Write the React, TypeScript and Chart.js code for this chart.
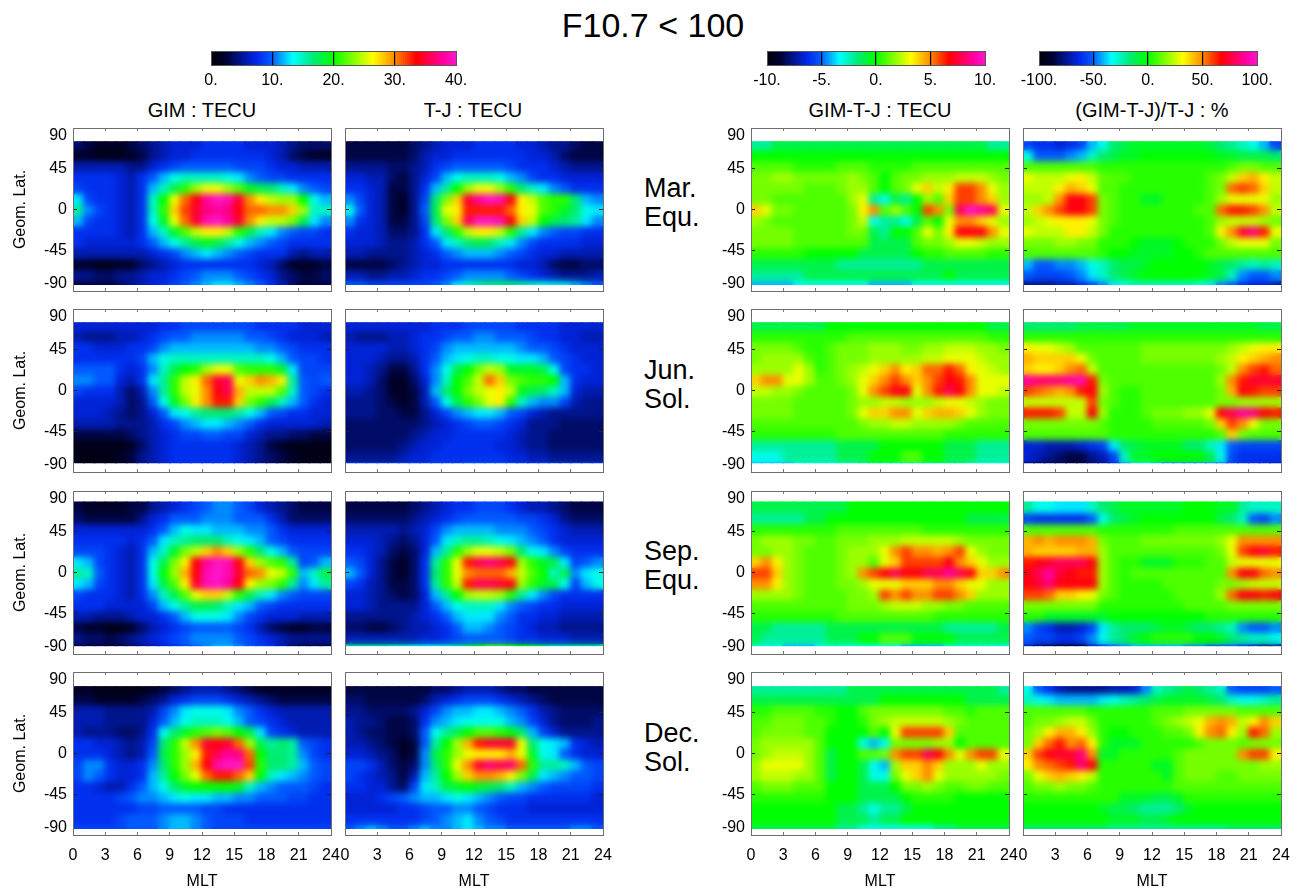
import React, { useEffect, useRef } from "react";
import { Chart, registerables } from "chart.js";
Chart.register(...registerables);

const FONT = '"Liberation Sans", Arial, sans-serif';
const HOURS = [0.5,1.5,2.5,3.5,4.5,5.5,6.5,7.5,8.5,9.5,10.5,11.5,12.5,13.5,14.5,15.5,16.5,17.5,18.5,19.5,20.5,21.5,22.5,23.5];
const LAT_EDGES = [66,54,42,30,18,6,-6,-18,-30,-42,-54,-66,-78];

const marGim = [
[4,3,2,2,2,3,4,5,6,7,7,7,8,8,8,8,7,7,7,6,5,4,4,4],
[2,2,1,1,1,2,3,5,6,7,7,8,8,8,8,8,8,8,7,6,4,3,2,2],
[6,6,6,6,6,5,5,7,8,9,10,10,10,10,10,9,9,9,8,7,7,6,6,6],
[8,8,8,8,7,6,8,10,12,14,15,15,15,15,14,13,11,10,9,9,8,8,8,8],
[9,8,8,8,7,6,8,12,15,18,21,24,26,26,24,22,19,18,17,15,13,11,10,9],
[13,9,8,8,7,6,8,15,20,26,31,34,38,40,39,35,30,27,25,24,24,20,14,12],
[16,11,9,8,7,6,8,15,21,28,32,35,37,38,37,34,31,31,30,30,28,24,15,15],
[12,9,8,8,7,6,8,14,19,26,31,35,39,40,38,35,30,27,25,25,23,18,13,11],
[8,8,8,8,7,6,8,12,15,19,22,25,27,27,25,21,18,15,13,11,10,9,9,8],
[8,7,7,7,7,7,8,10,12,14,16,18,19,18,16,14,12,11,10,9,8,8,8,8],
[6,6,6,6,6,6,6,7,8,9,11,12,13,12,11,10,9,8,8,8,6,5,6,6],
[2,2,1,1,2,2,4,5,6,7,8,8,8,8,8,8,8,7,6,4,2,2,2,3],
[5,5,4,4,5,5,6,7,7,8,9,10,11,11,11,10,9,8,7,5,4,3,3,4],
[3,3,3,3,4,5,6,7,8,9,10,11,12,13,13,12,11,10,8,6,4,3,3,3],
];
const marTj = [
[3,3,3,3,3,3,4,5,6,7,7,7,8,8,8,8,7,7,6,5,5,4,3,3],
[3,3,3,3,3,3,4,6,7,7,8,8,8,8,8,8,8,7,7,6,4,3,3,3],
[5,5,5,5,4,4,5,6,8,9,10,10,10,10,10,9,8,8,8,7,6,5,5,5],
[7,7,6,6,4,3,5,7,9,12,14,15,15,15,14,12,11,9,8,8,7,7,7,7],
[8,8,7,6,3,3,5,8,12,16,20,24,26,26,24,21,17,15,13,11,10,8,8,8],
[11,9,7,6,3,2,5,9,17,23,28,35,38,40,39,34,27,25,22,21,21,17,12,11],
[14,10,7,6,3,2,5,10,18,26,27,33,33,33,33,31,27,26,22,21,19,17,14,13],
[11,8,7,6,3,3,5,9,17,23,28,36,40,40,39,34,28,25,20,18,17,16,13,11],
[8,7,7,6,4,4,5,8,13,17,21,25,27,27,25,21,16,13,11,10,9,9,8,8],
[7,7,7,6,5,5,6,8,10,13,15,17,18,17,15,13,11,9,8,8,8,8,7,7],
[6,6,5,5,5,5,6,7,8,10,11,12,12,12,11,10,9,8,7,7,6,6,6,6],
[3,3,3,3,4,5,6,7,7,8,8,8,8,8,8,8,7,7,6,4,3,3,4,4],
[6,6,5,5,6,6,7,8,8,9,10,11,11,11,11,10,9,8,7,6,5,5,5,6],
[10,10,9,9,9,9,9,9,10,11,13,15,16,17,17,17,16,15,14,13,13,12,11,10],
];
const marDiff = [
[-2,-2,-1,-1,-1,-1,-1,-1,-1,-1,-1,-1,-1,-1,-1,-1,-1,-1,-1,-1,-1,-1,-2,-2],
[0,0,0,0,0,0,0,0,0,0,0,0,0,0,0,0,0,0,0,0,0,0,0,0],
[1,1,1,1,0.5,0.5,0.5,0.5,1,1,1,0.5,0.5,0.5,0.5,1,1,1,1,1,1,1,1,1],
[1.5,1.5,2,2,1.5,1.5,1.5,1.5,1.5,2,1.5,1,0,1,1.5,1.5,2,2,2,2.5,2.5,2.5,2,1.5],
[1.5,1.5,1.5,1.5,1.5,1,1,1,1.5,2,2,1,0,1,1.5,3,4,2.5,3.5,6,6,5,3,2],
[1.5,1.5,1,1,1,1,1,1,1,2,3,-2,-3,-1,-2,0,2,1,4,6,6,5,4,2],
[4,3,1.5,1.5,1,1,1,1,1,1.5,3.5,5,1,2,1,0,6,5,1.5,8,10,9,8,3],
[2,1.5,1,1,1,1,1,1,1,1.5,2.5,-3,-2,-2,-3,-1,1,0,3,5,5,4,3,2],
[1.5,1.5,1.5,1.5,1,1,1,1,1,1.5,1.5,-1,-2,0,0,1,3,1.5,3.5,7,7,7,5,3],
[1.5,1.5,1.5,1.5,1,1,1,1,1,1,1,-1,-1,-1,-1,1,1.5,1.5,2,3,3,2.5,2,2],
[0.5,0.5,0.5,0.5,0.5,0,0,0,0,0,-1,-1,-1,-1,-1,0,0.5,0.5,1,1,1,1,0.5,0.5],
[-1,-1,-1,-1,-1,-1,-1,-1,-2,-2,-2,-2,-2,-2,-2,-2,-1,-1,-1,-1,-1,-1,-1,-1],
[-2,-2,-2,-2,-2,-1,-1,-1,-1,-1,-1,-1,-1,-1,-1,-1,-1,-1,0,-1,-1,-1,-1,-1],
[-4,-4,-4,-4,-3,-3,-3,-3,-3,-3,-3,-4,-4,-4,-4,-3,-3,-3,-3,-3,-3,-3,-3,-3],
];
const marPct = [
[-55,-60,-60,-65,-60,-55,-40,-30,-15,-10,-5,-5,-5,-5,-5,-5,-5,-10,-15,-20,-25,-30,-40,-55],
[-30,-50,-50,-50,-45,-40,-25,-15,-10,-5,-5,0,0,0,0,0,0,0,-5,-5,-10,-10,-10,-15],
[10,10,10,10,10,10,10,5,5,5,5,5,5,5,5,5,5,5,5,10,15,15,10,10],
[30,25,25,25,30,35,25,12,10,10,5,5,5,5,5,5,5,10,15,25,40,45,35,25],
[25,25,25,35,45,40,30,10,10,5,5,5,5,5,5,5,5,10,15,55,60,55,40,25],
[20,20,25,50,70,70,60,15,10,5,5,-5,-5,5,5,5,5,10,20,30,30,30,30,20],
[25,40,50,60,70,70,60,15,10,5,5,5,5,5,5,5,10,10,55,65,65,60,50,25],
[20,25,30,35,35,35,30,15,10,5,5,5,5,5,5,5,5,10,20,25,25,25,20,15],
[30,25,25,25,35,35,25,15,5,5,5,5,5,5,5,5,5,10,35,50,75,85,65,30],
[15,15,15,20,20,15,15,5,5,5,0,-5,-5,-5,0,5,5,5,15,25,30,30,30,15],
[10,10,10,10,10,10,10,5,0,0,-5,-5,-5,-5,0,0,5,10,10,10,10,10,10,10],
[-40,-50,-50,-45,-45,-40,-30,-25,-15,-10,-10,-5,0,0,0,0,0,-5,-10,-15,-20,-25,-20,-25],
[-50,-55,-55,-55,-50,-45,-35,-25,-15,-10,-5,0,0,0,0,0,0,-5,-10,-25,-45,-50,-50,-45],
[-75,-75,-75,-70,-70,-60,-55,-45,-35,-30,-25,-25,-25,-25,-25,-25,-30,-35,-45,-50,-60,-65,-65,-70],
];
const junGim = [
[7,7,7,7,7,7,7,7,8,8,9,9,9,9,9,9,9,8,8,8,8,7,7,7],
[6,5,5,5,6,6,7,8,9,10,10,11,11,11,11,11,10,10,9,8,7,7,7,6],
[8,8,7,7,7,8,8,9,11,12,12,12,12,12,12,12,12,11,11,10,9,8,8,8],
[8,8,8,8,8,8,9,12,14,15,15,15,15,15,15,15,15,15,14,12,10,9,9,8],
[10,10,10,10,8,7,8,11,15,18,20,21,24,26,26,22,21,21,21,19,13,9,9,9],
[11,11,10,10,7,6,8,13,16,21,25,27,31,35,36,26,28,30,29,27,16,10,9,10],
[9,8,8,8,6,4,6,11,16,21,25,26,30,34,36,29,25,25,25,22,15,10,9,8],
[7,7,7,7,6,4,5,10,14,19,23,27,30,33,33,28,23,21,18,15,12,10,8,7],
[7,7,7,6,5,4,5,7,10,13,14,16,17,17,17,16,14,12,10,9,8,8,7,7],
[6,6,6,6,5,5,5,6,8,9,11,12,13,13,12,11,10,8,7,7,7,7,7,6],
[3,3,3,3,3,4,5,6,7,8,9,9,10,10,9,9,7,6,5,5,4,4,3,3],
[1,1,1,1,1,2,4,6,7,8,8,8,8,8,8,7,6,5,3,2,1,1,1,1],
[1,1,1,1,2,3,5,6,7,8,8,8,8,8,8,7,6,5,4,3,2,1,1,1],
[1,1,1,1,2,3,5,6,7,8,8,8,8,8,8,7,6,5,4,3,2,2,2,1],
];
const junTj = [
[7,7,7,7,7,7,7,7,8,8,8,9,9,9,9,9,8,8,8,8,7,7,7,7],
[6,5,5,5,6,6,7,8,8,9,10,10,11,11,10,10,10,9,8,8,7,7,6,6],
[7,7,7,7,6,6,7,8,9,11,12,12,12,12,12,12,11,10,10,9,8,7,7,7],
[7,7,7,6,5,5,6,8,10,12,13,14,15,15,14,14,13,13,12,10,9,8,7,7],
[7,7,6,5,3,3,5,8,11,14,18,20,23,25,24,19,19,19,18,14,9,8,8,7],
[7,7,6,4,2,2,4,7,11,15,20,22,25,31,28,23,22,21,21,20,12,8,7,7],
[6,6,5,4,2,2,3,6,12,17,20,23,25,26,27,25,19,18,17,15,12,7,6,6],
[5,5,5,4,3,2,3,6,10,14,18,21,23,26,27,21,15,12,11,11,9,6,5,5],
[5,5,5,4,4,3,3,5,7,9,11,12,13,13,12,10,9,7,6,5,5,5,5,5],
[4,4,4,4,4,4,4,5,6,7,8,9,10,10,9,8,7,5,5,5,4,4,4,4],
[4,4,4,4,4,4,5,6,7,7,8,8,8,8,8,7,6,5,5,4,4,4,4,4],
[4,4,4,4,4,5,6,7,7,8,8,8,8,8,7,7,6,5,5,4,4,4,4,4],
[5,5,5,5,5,6,7,7,8,8,8,8,8,8,8,7,7,6,6,5,5,5,5,5],
[9,9,9,9,9,9,9,9,9,9,9,10,10,10,10,10,9,9,9,9,9,9,9,9],
];
const junDiff = [
[-1,-1,-1,-1,-1,-1,-1,0,0,0,0,0,0,0,0,0,0,0,0,0,0,0,-1,-1],
[0.5,0.5,0.5,0.5,0.5,0.5,0.5,0.5,0.5,1,1,1,1,1,1,1,1,1,1,1,1,1,0.5,0.5],
[1.5,1.5,1.5,1.5,1,0.5,0.5,1,1.5,1.5,1.5,2,2,2,1.5,1.5,2,2,2.5,2.5,2.5,2,2,1.5],
[1.5,2,2,2,2,1,0.5,1,1.5,1.5,1.5,2,2,2,2,2,2.5,2.5,3,3,3,2.5,2,2],
[2,2,2,2,3,2,0.5,1,1.5,2,2.5,3,4,5,3.5,4,5.5,5.5,6.5,5.5,3.5,3,2.5,2],
[4,5,5,3,3,2,1,1,1.5,2,3,4,5,6,5,4,5,6,7,6.5,5,3,3,3],
[2.5,2.5,2,2,1.5,1,1,1,1,1.5,3,5,6,7,7,3,5,6.5,8,7,5,3,3,2.5],
[1.5,1.5,1.5,1.5,1,1,1,1,1,1.5,2,2,2.5,2.5,2,2,2,2.5,3,3,2.5,2,1.5,1.5],
[1.5,1.5,1.5,1.5,1,1,1,1,1,1.5,3,4,4,5,5,3,4,4.5,4.5,4,3,2,1.5,1.5],
[1,1,1,1,1,1,1,1,1,1,1.5,2,2,2.5,2.5,2,2,2,2,1.5,1,1,1,1],
[0.5,0.5,0.5,0.5,0.5,0.5,0.5,0.5,1,1,1,1,1,1,1,1,1,1,0.5,0.5,0.5,0.5,0.5,0.5],
[-2,-2,-2,-2,-2,-2,-2,-2,-1,-1,-1,-1,0,0,0,0,0,0,-1,-1,-1,-2,-2,-2],
[-3,-3,-3,-2,-2,-2,-2,-2,-1,-1,-1,0,0,0,1,1,0,0,-1,-1,-1,-2,-2,-2],
[-4,-4,-4,-4,-3,-3,-3,-3,-3,-3,-2,-2,-2,-2,-2,-2,-2,-2,-2,-2,-3,-3,-3,-3],
];
const junPct = [
[-15,-15,-15,-15,-15,-10,-10,-10,-10,-10,-5,-5,-5,-5,-5,-5,-5,-5,-5,-5,-5,-5,-10,-10],
[5,5,5,5,5,5,5,5,5,5,5,5,5,5,5,5,5,5,5,5,5,5,5,5],
[35,30,30,25,20,10,10,10,10,10,10,15,15,15,15,15,15,15,15,20,25,30,35,35],
[45,40,40,40,40,30,15,10,10,10,10,15,15,15,15,15,15,15,20,25,35,40,45,50],
[40,35,35,40,50,55,25,10,10,10,10,10,10,10,10,10,10,10,15,25,50,60,65,55],
[90,85,85,85,90,95,65,15,10,10,10,10,10,10,10,10,10,10,20,50,65,75,75,75],
[60,55,50,45,50,65,70,20,10,5,5,10,10,10,10,10,10,10,15,45,70,65,60,60],
[25,25,25,25,25,25,60,15,10,5,5,10,10,10,10,10,10,10,15,15,20,20,20,20],
[65,65,65,60,25,25,70,20,5,5,5,10,15,15,15,20,20,30,70,80,90,85,70,65],
[15,15,15,15,15,15,15,10,5,5,5,5,10,10,10,10,10,15,40,60,50,30,15,15],
[10,10,10,10,10,10,10,10,5,5,5,5,5,5,5,5,5,5,10,40,15,10,10,10],
[-65,-65,-70,-70,-70,-65,-60,-55,-35,-15,-10,-5,-5,-5,-5,-15,-15,-25,-35,-50,-55,-55,-55,-55],
[-65,-70,-75,-80,-85,-85,-75,-70,-55,-25,-5,-5,0,0,0,0,0,-10,-30,-55,-60,-60,-60,-60],
[-80,-85,-85,-85,-85,-85,-80,-75,-65,-45,-35,-30,-40,-45,-45,-45,-45,-45,-50,-55,-60,-60,-65,-70],
];
const sepGim = [
[3,2,2,2,2,3,3,5,6,7,8,9,10,11,11,10,9,7,6,5,4,3,3,3],
[4,3,3,3,3,3,5,7,8,10,10,10,11,11,11,10,10,10,8,6,4,4,4,4],
[7,7,7,7,7,7,7,8,10,12,14,13,13,12,12,12,11,11,10,8,7,7,7,7],
[8,8,8,8,8,7,8,10,13,15,16,17,17,17,15,14,13,12,10,9,8,8,8,8],
[9,9,9,8,7,6,8,12,15,19,23,25,28,30,28,24,21,17,14,12,10,9,9,9],
[13,12,9,8,7,6,8,14,18,23,27,34,38,40,39,34,28,24,22,21,16,9,10,12],
[16,15,10,8,7,6,8,14,20,24,29,34,39,40,39,35,31,30,26,25,21,12,15,18],
[13,12,9,8,7,6,8,13,18,22,27,35,39,40,38,34,27,24,23,21,16,11,13,16],
[9,8,8,8,7,6,8,11,15,18,22,26,28,28,25,21,18,15,13,11,10,9,9,9],
[8,8,8,7,7,7,7,9,12,14,16,18,18,17,15,13,12,10,9,8,8,8,8,8],
[6,6,5,5,5,6,7,7,8,10,12,14,14,14,13,11,9,8,7,7,7,6,6,6],
[3,2,2,1,1,2,4,6,7,8,9,10,10,10,10,9,8,6,4,3,2,2,3,3],
[5,4,4,3,4,5,6,7,8,9,10,11,11,11,11,10,9,8,7,6,5,5,5,5],
[3,3,3,3,3,4,5,6,7,8,9,10,11,12,12,11,10,9,8,6,4,3,3,3],
];
const sepTj = [
[3,3,3,3,3,3,4,5,6,7,8,8,9,9,9,8,7,6,6,5,4,3,3,3],
[4,4,4,4,4,4,5,6,7,8,9,10,10,10,10,10,9,9,8,7,5,4,4,4],
[6,6,6,6,6,5,6,7,9,11,12,12,12,12,11,11,11,10,9,8,7,6,6,6],
[7,7,7,6,5,4,5,7,10,13,15,16,16,15,14,13,12,11,10,8,7,7,7,7],
[8,8,7,6,4,3,4,7,12,16,21,24,26,26,25,23,17,14,13,11,9,8,8,8],
[10,9,7,5,3,2,4,8,16,21,26,33,36,37,36,34,24,21,19,18,13,9,10,11],
[12,10,7,5,3,2,4,8,17,21,26,30,31,31,31,29,25,22,20,15,18,11,13,14],
[9,8,6,5,3,3,4,8,16,21,25,33,36,36,35,34,24,21,19,18,14,9,12,14],
[7,7,6,5,4,3,4,7,12,16,20,24,25,25,24,21,16,13,11,9,8,8,8,8],
[7,7,6,5,5,5,5,7,10,12,14,15,15,15,13,11,10,9,8,8,7,7,7,7],
[5,5,5,5,5,5,6,7,8,10,12,13,13,13,11,10,8,8,7,7,6,6,6,6],
[4,4,3,3,4,5,6,6,7,8,10,12,12,11,10,9,8,7,6,6,5,5,5,5],
[6,6,6,6,6,6,6,7,7,8,9,10,10,10,10,9,8,8,7,7,7,6,6,6],
[16,16,16,16,15,15,14,14,14,15,16,18,20,22,22,21,20,19,17,16,16,16,16,16],
];
const sepDiff = [
[-1,-1,-1,-1,-1,-1,-1,-1,-1,0,0,0,0,0,0,0,0,0,0,0,0,0,0,0],
[-2,-2,-2,-2,-2,-1,-1,0,0,0,0,0,0,0,0,0,0,0,0,0,-1,-1,-1,-1],
[0.5,0.5,0.5,0.5,0.5,0.5,0.5,0.5,1,1,1,1,1,1,1,1,0.5,0.5,0.5,0.5,0.5,0.5,0.5,0.5],
[1.5,2,2,2,1.5,1.5,1,1,1.5,1.5,1.5,2,2,2,2.5,2.5,2.5,2.5,2.5,2,1.5,1.5,1.5,1.5],
[1.5,1.5,2,2,1.5,1,1,1,1.5,2,2,2,3,5,6,5,5,4.5,5,6,3,2,1.5,1.5],
[4,5,3.5,2,1.5,1,1,1,1.5,2,2,1,3,4,6,6,6,6,7,5,4,3,2,2],
[6,6,4,2,1.5,1,1,1,1.5,2,5,6,7,8,7,7,8,8,9,8,7,4,4,5],
[5,5,3.5,2,1.5,1,1,1,1.5,1.5,2,3,3,3,4,4,4,5,5,4,3,3,2,2],
[2,2,2,2,1.5,1,1,1,1,1.5,1.5,2,6,5,6,5,5,6,6,5,4,2,2,2],
[1,1,1,1,1,1,1,1,1,1.5,1.5,1.5,2,2.5,2.5,2.5,2,2,1.5,1.5,1,1,1,1],
[0.5,0.5,0.5,0.5,0.5,0.5,0.5,0.5,1,1,1,1,1,1,1,1,1,0.5,0.5,0.5,0.5,0.5,0.5,0.5],
[-1,-1,-2,-2,-2,-2,-2,-1,-1,-1,-1,-1,-1,-1,-1,-1,-1,-1,-2,-2,-2,-2,-2,-1],
[-1,-2,-2,-2,-2,-2,-2,-1,-1,-1,0,0,1,1,1,0,0,0,0,-1,-1,-1,-1,-1],
[-3,-3,-3,-4,-4,-4,-3,-3,-3,-3,-3,-3,-3,-3,-4,-4,-4,-4,-3,-3,-3,-3,-3,-3],
];
const sepPct = [
[-20,-30,-30,-35,-35,-35,-25,-15,-10,-5,-5,-5,-5,-5,-5,0,0,0,-5,-5,-20,-25,-25,-25],
[-55,-60,-60,-60,-60,-60,-50,-30,-15,-10,-5,0,0,0,0,0,0,0,-10,-15,-25,-50,-55,-45],
[10,10,10,10,10,10,10,5,5,5,5,5,5,5,10,10,10,10,10,10,10,10,10,10],
[45,50,45,50,50,50,45,15,10,10,10,15,15,15,15,15,15,15,20,30,50,50,50,50],
[45,40,40,40,40,45,45,20,10,10,10,10,10,10,10,10,10,10,15,30,60,70,75,65],
[65,70,75,80,80,80,70,20,10,5,5,-5,-5,-5,5,5,5,10,10,25,30,30,30,30],
[70,80,90,75,70,65,65,20,10,5,10,10,10,10,10,10,10,10,10,50,70,70,55,50],
[70,75,85,70,70,70,70,20,10,5,5,5,5,10,10,10,10,10,15,15,20,25,25,25],
[60,60,55,40,40,35,30,15,10,5,5,5,5,5,10,10,10,10,20,55,70,70,65,70],
[15,15,15,15,15,15,15,5,5,5,5,5,5,5,5,10,10,10,10,15,15,15,15,15],
[5,5,-5,-5,-5,-5,-5,-5,0,0,0,0,0,0,0,0,0,5,5,5,5,5,5,5],
[-45,-55,-60,-70,-70,-65,-55,-35,-20,-15,-15,-15,-10,-5,-5,-10,-15,-15,-20,-25,-45,-50,-50,-45],
[-50,-55,-55,-60,-60,-55,-45,-30,-20,-15,-5,0,5,5,5,5,0,0,-5,-15,-20,-25,-25,-30],
[-70,-80,-85,-90,-90,-90,-70,-60,-50,-45,-40,-40,-40,-40,-40,-45,-45,-50,-50,-50,-60,-70,-80,-75],
];
const decGim = [
[2,2,1,1,1,1,1,2,3,4,5,6,6,6,5,4,3,2,2,2,2,2,2,2],
[3,3,2,2,2,2,3,4,5,7,8,9,9,9,8,7,6,5,4,3,3,3,3,3],
[6,6,6,5,5,5,5,6,9,11,13,14,14,14,13,11,10,8,7,6,6,6,6,6],
[6,6,6,5,5,5,5,7,10,12,14,15,15,15,14,12,10,9,8,7,6,6,6,6],
[6,5,5,5,4,4,5,8,14,17,19,21,22,23,22,20,18,13,9,8,7,6,6,6],
[8,8,7,7,6,5,6,9,17,21,25,30,35,34,35,31,24,18,16,17,16,10,9,8],
[8,8,8,7,6,5,6,10,18,21,24,27,33,36,38,37,31,20,17,17,16,11,9,8],
[9,11,11,8,7,7,8,11,17,21,24,29,34,39,40,40,32,21,17,17,16,12,10,9],
[9,11,10,8,7,7,8,12,16,20,23,26,31,33,33,31,28,20,15,13,12,11,10,9],
[8,8,7,6,6,8,10,12,14,17,19,20,20,20,20,19,15,12,11,10,10,10,9,8],
[8,8,8,8,9,10,11,11,12,13,14,13,13,12,12,11,11,10,10,10,9,9,8,8],
[8,8,8,8,8,8,9,9,10,10,10,10,9,9,8,8,8,8,8,8,8,8,8,8],
[8,8,8,8,9,10,10,10,11,12,12,11,10,9,9,9,8,8,8,8,8,8,8,8],
[9,9,9,9,9,10,10,10,11,12,12,11,10,9,9,9,9,9,9,9,9,9,9,9],
];
const decTj = [
[3,3,3,3,3,3,3,3,4,4,5,6,6,6,5,4,4,3,3,3,3,3,3,3],
[4,4,3,3,3,3,3,4,6,7,8,9,9,9,8,7,6,5,4,3,3,3,3,3],
[5,5,4,4,4,4,5,7,9,11,12,12,13,13,12,11,10,8,6,5,4,4,4,4],
[6,5,5,4,3,3,4,8,11,12,13,14,14,14,14,12,11,9,7,5,4,4,4,5],
[6,5,4,4,3,3,4,10,14,16,18,20,22,22,21,20,17,12,9,7,5,5,5,5],
[6,6,5,4,3,2,3,10,16,20,24,29,33,35,35,35,26,17,14,13,12,8,7,6],
[7,7,6,5,4,2,3,11,18,21,24,26,27,27,27,29,26,19,14,13,10,8,7,7],
[9,9,8,6,4,3,4,11,17,21,26,30,35,37,36,37,31,21,16,16,15,12,10,9],
[9,8,7,6,5,3,6,12,16,20,24,28,30,30,29,27,23,18,13,12,11,10,10,9],
[8,8,7,7,5,4,9,13,15,18,19,20,19,18,17,15,12,11,10,9,9,9,9,8],
[7,7,7,8,9,10,11,12,12,13,14,13,12,11,10,9,9,8,8,8,8,8,8,7],
[7,7,7,7,7,8,8,9,10,10,11,11,10,9,8,8,8,7,7,7,7,7,7,7],
[8,8,8,8,8,8,8,9,10,11,12,13,11,10,9,8,8,8,8,8,8,8,8,8],
[10,11,12,11,10,10,11,12,11,11,12,13,12,11,11,10,10,10,10,10,10,11,11,10],
];
const decDiff = [
[-2,-2,-2,-2,-2,-2,-2,-2,-2,-1,-1,-1,-1,-1,-1,-1,-1,-1,-1,-1,-1,-1,-1,-2],
[-1,-1,-1,-1,-1,-1,-1,-1,-1,-1,-1,-1,0,0,0,0,0,0,0,0,-1,-1,-1,-1],
[0.5,0.5,1,1,1,1,0.5,0.5,0,0,1,1.5,1.5,1.5,1.5,1.5,1.5,1.5,1,1,0.5,1,1,1],
[1,1,1.5,1.5,1.5,1,1,0.5,0,0,0.5,1.5,2,2.5,2.5,2.5,2.5,2.5,2,1.5,1,1,1,1],
[1,1.5,1.5,1.5,1.5,1,1,0,0,0,0,1,0,3,6,6,6,6,4,1,1,1,1,1],
[1.5,2,2,2,2,2,1,0,0,0,-3,-4,-3,1.5,1.5,1.5,1.5,2,2,0,1,1,1,1],
[1.5,2,2.5,2.5,2.5,2,1,-1,0,0,1,1,1.5,5,6,6,8,7,5,3,5,6,6,3],
[2,3,3,3,3,2,1,-1,0,0,-1,-3,-4,2,4,4,5,4,2,2,2,3,2,2],
[2,2.5,2.5,2.5,2,2,1,-1,0,0,-1,-3,-3,1.5,3,4,5,3,2,2,2,2,2,1.5],
[1,1.5,1.5,1.5,1,1,1,0,0,0,-1,-1,-1,0,1.5,1.5,2,1.5,1,1,1.5,1.5,1,1],
[0.5,0.5,0.5,0.5,0.5,0.5,0.5,0,0,0,-1,-1,-1,-1,0,0.5,0.5,0.5,0.5,0,0,0,0,0],
[0,0,0,0,0,0,0,0,-1,-1,-2,-3,-2,-2,-1,0,0,0,0,0,0,0,0,0],
[0,0,0,0,0,0,0,0,-1,-1,-1,-2,-1,-1,0,0,0,0,0,0,0,0,0,0],
[-1,-1,-1,-1,-1,-1,-1,-1,-2,-2,-3,-3,-3,-3,-3,-3,-3,-2,-2,-1,-1,-1,-1,-1],
];
const decPct = [
[-30,-50,-60,-70,-75,-75,-75,-75,-70,-70,-65,-45,-25,-20,-15,-10,-15,-20,-25,-50,-55,-55,-55,-50],
[-25,-30,-35,-40,-40,-40,-40,-35,-30,-25,-20,-15,-10,-5,-5,-5,-5,-10,-15,-25,-30,-30,-25,-20],
[10,10,10,10,10,10,5,5,5,5,5,5,10,10,10,15,15,15,15,15,10,10,10,10],
[10,15,15,20,25,25,15,5,5,5,5,5,10,15,20,25,30,45,50,45,25,35,50,40],
[15,20,35,45,45,35,20,5,0,0,5,5,5,10,10,15,35,50,55,35,20,65,55,20],
[15,40,55,65,50,55,35,5,-5,-5,-5,5,5,5,5,5,10,15,15,15,10,15,15,15],
[40,60,70,75,75,85,50,-5,-5,5,5,5,5,5,10,15,15,15,15,15,50,60,60,35],
[35,50,55,60,65,85,70,5,5,5,5,5,-5,-5,10,15,15,15,15,15,15,15,20,20],
[15,30,40,45,40,35,25,5,5,5,5,5,5,-5,10,15,15,15,10,10,15,15,15,15],
[10,15,15,20,15,15,10,5,5,5,5,5,5,5,10,10,10,10,10,10,10,10,10,10],
[5,5,5,5,5,5,5,5,5,-5,-5,-5,-10,-10,-5,5,5,5,5,5,5,5,5,5],
[0,0,0,0,0,0,0,-5,-10,-10,-15,-20,-20,-20,-15,-5,0,0,0,0,0,0,0,0],
[0,0,0,0,0,0,0,0,-5,-5,-5,-10,-10,-5,0,0,0,0,0,0,0,0,0,0],
[-15,-15,-15,-15,-15,-15,-15,-15,-20,-20,-20,-20,-20,-20,-20,-20,-20,-20,-20,-15,-15,-15,-15,-15],
];

// colour table: [fraction, r, g, b]
const STOPS = [[0,0,0,8],[0.06,0,0,45],[0.19,0,40,235],[0.25,0,90,255],[0.337,0,255,255],[0.42,0,235,120],[0.5,0,255,0],[0.664,255,255,0],[0.745,255,150,0],[0.84,255,0,0],[0.95,255,0,160],[1,255,20,200]];
function colorOf(v: number, min: number, max: number) {
  const f = Math.min(1, Math.max(0, (v - min) / (max - min)));
  for (let i = 1; i < STOPS.length; i++) {
    if (f <= STOPS[i][0]) {
      const a = STOPS[i - 1], b = STOPS[i], t = (f - a[0]) / (b[0] - a[0]);
      return `rgb(${a[1] + (b[1] - a[1]) * t},${a[2] + (b[2] - a[2]) * t},${a[3] + (b[3] - a[3]) * t})`;
    }
  }
  return "rgb(255,20,200)";
}

const blurPlugin = {
  id: "soften",
  afterDatasetsDraw(chart: any, _args: any, opts: any) {
    const { ctx, chartArea: a, scales } = chart;
    const w = Math.round(a.right - a.left), h = Math.round(a.bottom - a.top);
    const off = document.createElement("canvas");
    off.width = w; off.height = h;
    off.getContext("2d")!.drawImage(chart.canvas, a.left, a.top, w, h, 0, 0, w, h);
    const y0 = scales.y.getPixelForValue(opts.top), y1 = scales.y.getPixelForValue(opts.bottom);
    ctx.save();
    ctx.beginPath(); ctx.rect(a.left, y0, w, y1 - y0); ctx.clip();
    ctx.filter = "blur(3px)";
    ctx.drawImage(off, a.left, a.top);
    ctx.restore();
  },
};

const PW = 258, PH = 163, LEFT = 73, RIGHT = 16, TOP = 16;
const tickFont = { family: FONT, size: 16, lineHeight: 0.95 };
const noPad = (s: any) => { s.paddingLeft = 0; s.paddingRight = 0; s.paddingTop = 0; s.paddingBottom = 0; };

function Panel({ x, y, values, range, top, bottom, yLabels, yTitle, xLabels }: any) {
  const ref = useRef<HTMLCanvasElement>(null);
  const bottomSpace = xLabels ? 56 : 16;
  useEffect(() => {
    const edges = [top, ...LAT_EDGES, bottom];
    const datasets = values.map((row: number[], r: number) => ({
      data: HOURS.map((h) => ({ x: h, y: [r === values.length - 1 ? edges[r + 1] : edges[r + 1] - 0.4, r === 0 ? edges[r] : edges[r] + 0.4] })),
      backgroundColor: row.map((v) => colorOf(v, range[0], range[1])),
      barThickness: 11.6,
      grouped: false,
      borderWidth: 0,
    }));
    const border = { display: true, color: "#6e6e6e", width: 1, z: 2 };
    const xGrid = { offset: false, drawOnChartArea: false, drawTicks: true, tickLength: -3, color: "#777", z: 1 };
    const yGrid = { drawOnChartArea: false, drawTicks: true, tickLength: -4, color: "#222", z: 1 };
    const chart = new Chart(ref.current!, {
      type: "bar",
      data: { datasets },
      plugins: [blurPlugin],
      options: {
        responsive: false,
        animation: false,
        events: [],
        layout: { padding: { left: 0, right: RIGHT, top: TOP, bottom: xLabels ? 0 : 16 } },
        plugins: { legend: { display: false }, title: { display: false }, tooltip: { enabled: false }, soften: { top, bottom } },
        scales: {
          x: {
            type: "linear", position: "bottom", min: 0, max: 24, offset: false,
            grid: xGrid, border,
            ticks: { display: !!xLabels, stepSize: 3, autoSkip: false, maxRotation: 0, padding: 16, color: "#000", font: tickFont, callback: (v: any) => String(v) },
            title: { display: !!xLabels, text: "MLT", color: "#000", font: { family: FONT, size: 16 }, padding: 0 },
            afterFit: (s: any) => { s.height = xLabels ? 56 : 0; noPad(s); },
          },
          xTop: {
            type: "linear", position: "top", min: 0, max: 24, offset: false,
            grid: xGrid, border,
            ticks: { display: false, stepSize: 3 },
            afterFit: (s: any) => { s.height = 0; noPad(s); },
          },
          y: {
            type: "linear", position: "left", min: -90, max: 90,
            grid: yGrid, border,
            ticks: {
              display: !!yLabels, stepSize: 45, autoSkip: false, padding: 10, color: "#000", font: tickFont,
              callback: (v: any) => (v === 90 ? ["", "90"] : v === -90 ? ["-90", ""] : String(v)),
            },
            title: { display: !!yTitle, text: "Geom. Lat.", color: "#000", font: { family: FONT, size: 16 }, padding: { top: 11, bottom: 0 } },
            afterFit: (s: any) => { s.width = LEFT; noPad(s); },
          },
          yRight: {
            type: "linear", position: "right", min: -90, max: 90,
            grid: yGrid, border,
            ticks: { display: false, stepSize: 45 },
            afterFit: (s: any) => { s.width = 0; noPad(s); },
          },
        },
      },
    } as any);
    return () => chart.destroy();
  }, []);
  return <canvas ref={ref} width={LEFT + PW + RIGHT} height={TOP + PH + bottomSpace} style={{ position: "absolute", left: x - LEFT, top: y - TOP }} />;
}

const BAR_STEPS = 122;
function ColorBar({ x, w, min, max, step }: any) {
  const ref = useRef<HTMLCanvasElement>(null);
  useEffect(() => {
    const xs: number[] = [];
    for (let i = 0; i < BAR_STEPS; i++) xs.push(min + ((i + 0.5) / BAR_STEPS) * (max - min));
    const border = { display: true, color: "#555", width: 1, z: 2 };
    const chart = new Chart(ref.current!, {
      type: "bar",
      data: { datasets: [{ data: xs.map((v) => ({ x: v, y: [0, 1] })), backgroundColor: xs.map((v) => colorOf(v, min, max)), barThickness: 3, borderWidth: 0 }] },
      options: {
        responsive: false, animation: false, events: [],
        layout: { padding: { left: 30, right: 30, top: 4, bottom: 0 } },
        plugins: { legend: { display: false }, tooltip: { enabled: false } },
        scales: {
          x: {
            type: "linear", position: "bottom", min, max, offset: false,
            border,
            grid: { offset: false, drawTicks: false, z: 1, color: (c: any) => (c.tick && (c.tick.value === min || c.tick.value === max) ? "rgba(0,0,0,0)" : "#000"), lineWidth: 1.2 },
            ticks: { stepSize: step, autoSkip: false, maxRotation: 0, padding: 6, color: "#000", font: { family: FONT, size: 16 }, callback: (v: any) => v + "." },
            afterFit: (s: any) => { s.height = 28; noPad(s); },
          },
          xTop: { type: "linear", position: "top", min, max, offset: false, border, grid: { display: false }, ticks: { display: false }, afterFit: (s: any) => { s.height = 0; noPad(s); } },
          y: { type: "linear", position: "left", min: 0, max: 1, border, grid: { display: false }, ticks: { display: false }, afterFit: (s: any) => { s.width = 0; noPad(s); } },
          yRight: { type: "linear", position: "right", min: 0, max: 1, border, grid: { display: false }, ticks: { display: false }, afterFit: (s: any) => { s.width = 0; noPad(s); } },
        },
      },
    } as any);
    return () => chart.destroy();
  }, []);
  return <canvas ref={ref} width={w + 60} height={46} style={{ position: "absolute", left: x - 30, top: 47 }} />;
}

function Label({ cx, y, size, children }: any) {
  return <div style={{ position: "absolute", left: cx - 200, width: 400, top: y - size * 0.6, lineHeight: `${size * 1.2}px`, fontSize: size, textAlign: "center", whiteSpace: "pre" }}>{children}</div>;
}

const COL_X = [73, 345, 751, 1023];
const ROW_Y = [128, 309, 491, 672];
const RANGES = [[0, 40], [0, 40], [-10, 10], [-100, 100]];
const SEASON_DATA = [
  { top: 75, bottom: -83, cols: [marGim, marTj, marDiff, marPct] },
  { top: 75, bottom: -80, cols: [junGim, junTj, junDiff, junPct] },
  { top: 78, bottom: -81, cols: [sepGim, sepTj, sepDiff, sepPct] },
  { top: 74, bottom: -83, cols: [decGim, decTj, decDiff, decPct] },
];
const COL_TITLES = [["GIM : TECU", 202], ["T-J : TECU", 473], ["GIM-T-J : TECU", 880], ["(GIM-T-J)/T-J : %", 1152]];
const SEASONS = [["Mar.", "Equ.", 190], ["Jun.", "Sol.", 372], ["Sep.", "Equ.", 553], ["Dec.", "Sol.", 735]];

export default function App() {
  return (
    <div style={{ position: "absolute", left: 0, top: 0, width: 1298, height: 890, overflow: "hidden", background: "#fff", color: "#000", fontFamily: FONT }}>
      <Label cx={653} y={25} size={34}>{"F10.7 < 100"}</Label>
      {COL_TITLES.map(([t, cx]: any) => <Label key={t} cx={cx} y={110} size={20}>{t}</Label>)}
      {SEASONS.map(([a, b, y]: any) => (
        <div key={a + y} style={{ position: "absolute", left: 644, top: y - 16, fontSize: 27, lineHeight: "28.5px" }}>{a}<br />{b}</div>
      ))}
      <ColorBar x={211} w={245} min={0} max={40} step={10} />
      <ColorBar x={767} w={218} min={-10} max={10} step={5} />
      <ColorBar x={1039} w={218} min={-100} max={100} step={50} />
      {SEASON_DATA.map((s, r) =>
        s.cols.map((vals, c) => (
          <Panel key={r + "-" + c} x={COL_X[c]} y={ROW_Y[r]} values={vals} range={RANGES[c]} top={s.top} bottom={s.bottom}
            yLabels={c === 0 || c === 2} yTitle={c === 0} xLabels={r === 3} />
        ))
      )}
    </div>
  );
}
